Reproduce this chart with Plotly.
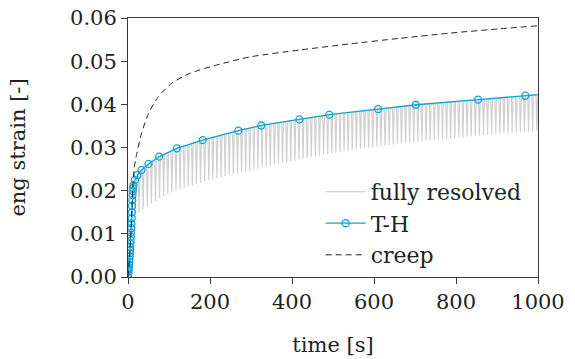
import plotly.graph_objects as go

# ---------------- data ----------------
# T-H (time-homogenised) solution: markers
th_time = [0, 0.5, 1, 1.5, 2, 2.5, 3, 3.5, 4, 4.5, 5, 5.5, 6, 6.5, 7, 7.5, 8, 8.5,
           9, 9.5, 10, 10.5, 11, 11.5, 12, 13, 17, 23, 33, 50, 76, 119, 182, 269,
           325, 418, 491, 610, 702, 854, 969, 1100]
th_strain = [0.0, 0.0006, 0.0012, 0.0018, 0.0023, 0.0029, 0.0035, 0.0041, 0.0048,
             0.0055, 0.0062, 0.0069, 0.0077, 0.0085, 0.0094, 0.0103, 0.0113, 0.0124,
             0.0136, 0.0150, 0.0165, 0.0178, 0.0190, 0.0199, 0.0206, 0.0212, 0.0225,
             0.0236, 0.0248, 0.0262, 0.0279, 0.0298, 0.0317, 0.0339, 0.0351, 0.0365,
             0.0376, 0.0389, 0.0399, 0.0411, 0.0420, 0.0430]

# creep (dashed)
creep_time = [0, 5, 10, 12, 15, 21, 33, 50, 74, 107, 151, 216, 298, 420, 541, 663,
              785, 907, 1000]
creep_strain = [0.0, 0.0062, 0.0170, 0.0215, 0.0252, 0.0284, 0.0333, 0.0379, 0.0418,
                0.0449, 0.0472, 0.0491, 0.0510, 0.0526, 0.0540, 0.0553, 0.0565,
                0.0575, 0.0582]

# fully resolved: initial ramp, then one unloading dip per cycle
fr_ramp_time = [0, 4, 8, 10, 12]
fr_ramp_strain = [0.0, 0.0048, 0.0113, 0.0165, 0.0206]
cycle_time = [15, 25, 35, 45, 55, 65, 75, 85, 95, 105, 115, 125, 135, 145, 155, 165,
              175, 185, 195, 205, 215, 225, 235, 245, 255, 265, 275, 285, 295, 305,
              315, 325, 335, 345, 355, 365, 375, 385, 395, 405, 415, 425, 435, 445,
              455, 465, 475, 485, 495, 505, 515, 525, 535, 545, 555, 565, 575, 585,
              595, 605, 615, 625, 635, 645, 655, 665, 675, 685, 695, 705, 715, 725,
              735, 745, 755, 765, 775, 785, 795, 805, 815, 825, 835, 845, 855, 865,
              875, 885, 895, 905, 915, 925, 935, 945, 955, 965, 975, 985, 995]
cycle_peak = [0.0220, 0.0238, 0.0250, 0.0258, 0.0265, 0.0272, 0.0279, 0.0284, 0.0288,
              0.0292, 0.0297, 0.0300, 0.0303, 0.0306, 0.0309, 0.0312, 0.0315, 0.0318,
              0.0321, 0.0324, 0.0326, 0.0329, 0.0331, 0.0333, 0.0336, 0.0338, 0.0340,
              0.0342, 0.0344, 0.0347, 0.0349, 0.0351, 0.0352, 0.0354, 0.0356, 0.0357,
              0.0359, 0.0360, 0.0362, 0.0363, 0.0365, 0.0366, 0.0368, 0.0369, 0.0371,
              0.0372, 0.0374, 0.0375, 0.0376, 0.0378, 0.0379, 0.0380, 0.0381, 0.0382,
              0.0383, 0.0384, 0.0385, 0.0386, 0.0387, 0.0388, 0.0389, 0.0390, 0.0391,
              0.0392, 0.0393, 0.0394, 0.0395, 0.0396, 0.0397, 0.0398, 0.0399, 0.0400,
              0.0401, 0.0401, 0.0402, 0.0403, 0.0404, 0.0405, 0.0406, 0.0407, 0.0407,
              0.0408, 0.0409, 0.0410, 0.0411, 0.0411, 0.0412, 0.0413, 0.0414, 0.0414,
              0.0415, 0.0416, 0.0417, 0.0417, 0.0418, 0.0419, 0.0420, 0.0421, 0.0421]
cycle_trough = [0.0140, 0.0148, 0.0157, 0.0164, 0.0170, 0.0176, 0.0182, 0.0187, 0.0192,
                0.0196, 0.0200, 0.0203, 0.0206, 0.0209, 0.0212, 0.0216, 0.0219, 0.0222,
                0.0224, 0.0226, 0.0228, 0.0231, 0.0234, 0.0236, 0.0238, 0.0240, 0.0242,
                0.0244, 0.0246, 0.0249, 0.0251, 0.0254, 0.0256, 0.0258, 0.0260, 0.0262,
                0.0264, 0.0266, 0.0268, 0.0270, 0.0272, 0.0274, 0.0276, 0.0278, 0.0279,
                0.0281, 0.0283, 0.0285, 0.0287, 0.0288, 0.0290, 0.0292, 0.0293, 0.0295,
                0.0296, 0.0297, 0.0299, 0.0300, 0.0301, 0.0302, 0.0303, 0.0304, 0.0306,
                0.0307, 0.0308, 0.0309, 0.0310, 0.0311, 0.0312, 0.0313, 0.0314, 0.0315,
                0.0316, 0.0317, 0.0318, 0.0319, 0.0320, 0.0321, 0.0322, 0.0323, 0.0324,
                0.0325, 0.0326, 0.0327, 0.0328, 0.0329, 0.0329, 0.0330, 0.0331, 0.0332,
                0.0333, 0.0333, 0.0334, 0.0335, 0.0335, 0.0336, 0.0337, 0.0337, 0.0338]
unload_duration = 4.0  # seconds for one unload/reload dip

x_ticks = [0, 200, 400, 600, 800, 1000]
y_ticks = [0.00, 0.01, 0.02, 0.03, 0.04, 0.05, 0.06]

# ---------------- build fully resolved trace ----------------
fr_t = list(fr_ramp_time)
fr_e = list(fr_ramp_strain)
for t, p, q in zip(cycle_time, cycle_peak, cycle_trough):
    fr_t += [t, t + unload_duration / 2, t + unload_duration]
    fr_e += [p, q, p]

BLUE = "#12a4d6"
FONT = "DejaVu Serif"
FS = 21

fig = go.Figure()
fig.add_trace(go.Scatter(
    x=fr_t, y=fr_e, mode="lines", name="fully resolved",
    line=dict(color="#d0d0d0", width=1.2)))
fig.add_trace(go.Scatter(
    x=th_time, y=th_strain, mode="lines+markers", name="T-H",
    line=dict(color=BLUE, width=1.3),
    marker=dict(symbol="circle-open", size=7, color=BLUE, line=dict(width=1.3))))
fig.add_trace(go.Scatter(
    x=creep_time, y=creep_strain, mode="lines", name="creep",
    line=dict(color="#222222", width=1, dash="6px,4px", shape="spline", smoothing=0.6)))

axis_common = dict(
    showline=True, linecolor="#3a3a3a", linewidth=1, mirror=True,
    ticks="outside", ticklen=6, tickcolor="#3a3a3a", tickwidth=1,
    showgrid=False, zeroline=False, automargin=False,
    tickfont=dict(family=FONT, size=FS, color="#222222"),
)

fig.update_layout(
    width=575, height=359,
    margin=dict(l=128, r=37, t=18, b=82),
    paper_bgcolor="white", plot_bgcolor="white",
    font=dict(family=FONT, size=FS, color="#222222"),
    xaxis=dict(range=[0, 1000], tickvals=x_ticks, ticktext=[str(v) for v in x_ticks],
               title=dict(text="time [s]", font=dict(family=FONT, size=FS), standoff=24),
               **axis_common),
    yaxis=dict(range=[0, 0.06], tickvals=y_ticks, ticktext=[f"{v:.2f}" for v in y_ticks],
               title=dict(text="eng strain [-]", font=dict(family=FONT, size=FS), standoff=38),
               **axis_common),
    legend=dict(x=0.47, y=0.41, xanchor="left", yanchor="top",
                bgcolor="rgba(0,0,0,0)", borderwidth=0,
                font=dict(family=FONT, size=22, color="#222222"),
                itemwidth=40),
    showlegend=True,
)

fig.write_html("out.html")
